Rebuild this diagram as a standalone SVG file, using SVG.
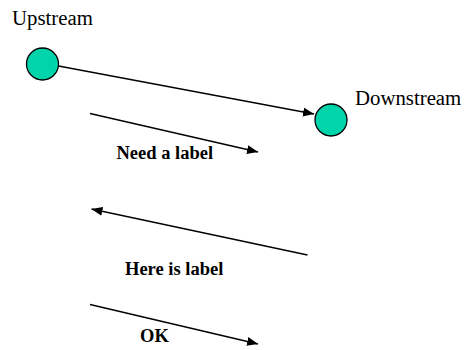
<svg xmlns="http://www.w3.org/2000/svg" width="465" height="350" viewBox="0 0 465 350">
<style>
.node{fill:#00D4AA;stroke:#000;stroke-width:1.3}
.lbl{font-family:"Liberation Serif",serif;font-size:20.8px;fill:#000}
.bl{font-family:"Liberation Serif",serif;font-size:18.5px;font-weight:bold;fill:#000}
.edge{stroke:#000;stroke-width:1.3;fill:none;marker-end:url(#ah)}
</style>
<defs>
<marker id="ah" markerUnits="userSpaceOnUse" markerWidth="13" markerHeight="10" refX="11" refY="4.5" orient="auto">
<path d="M0,0 L11,4.5 L0,9 Z" fill="#000"/>
</marker>
</defs>
<rect width="465" height="350" fill="#fff"/>
<g id="upstream">
<circle class="node" cx="42.5" cy="64" r="16"/>
<text class="lbl" x="12" y="25">Upstream</text>
</g>
<g id="downstream">
<circle class="node" cx="331" cy="120" r="16"/>
<text class="lbl" x="355" y="105">Downstream</text>
</g>
<g id="connectors">
<line class="edge" x1="58.5" y1="66" x2="314" y2="114"/>
<line class="edge" x1="90" y1="113.5" x2="258" y2="152"/>
<line class="edge" x1="307.5" y1="255" x2="91.5" y2="209"/>
<line class="edge" x1="90" y1="304.5" x2="258" y2="344"/>
</g>
<g id="labels">
<text class="bl" x="116.5" y="159">Need a label</text>
<text class="bl" x="125" y="275">Here is label</text>
<text class="bl" x="140" y="342">OK</text>
</g>
</svg>
